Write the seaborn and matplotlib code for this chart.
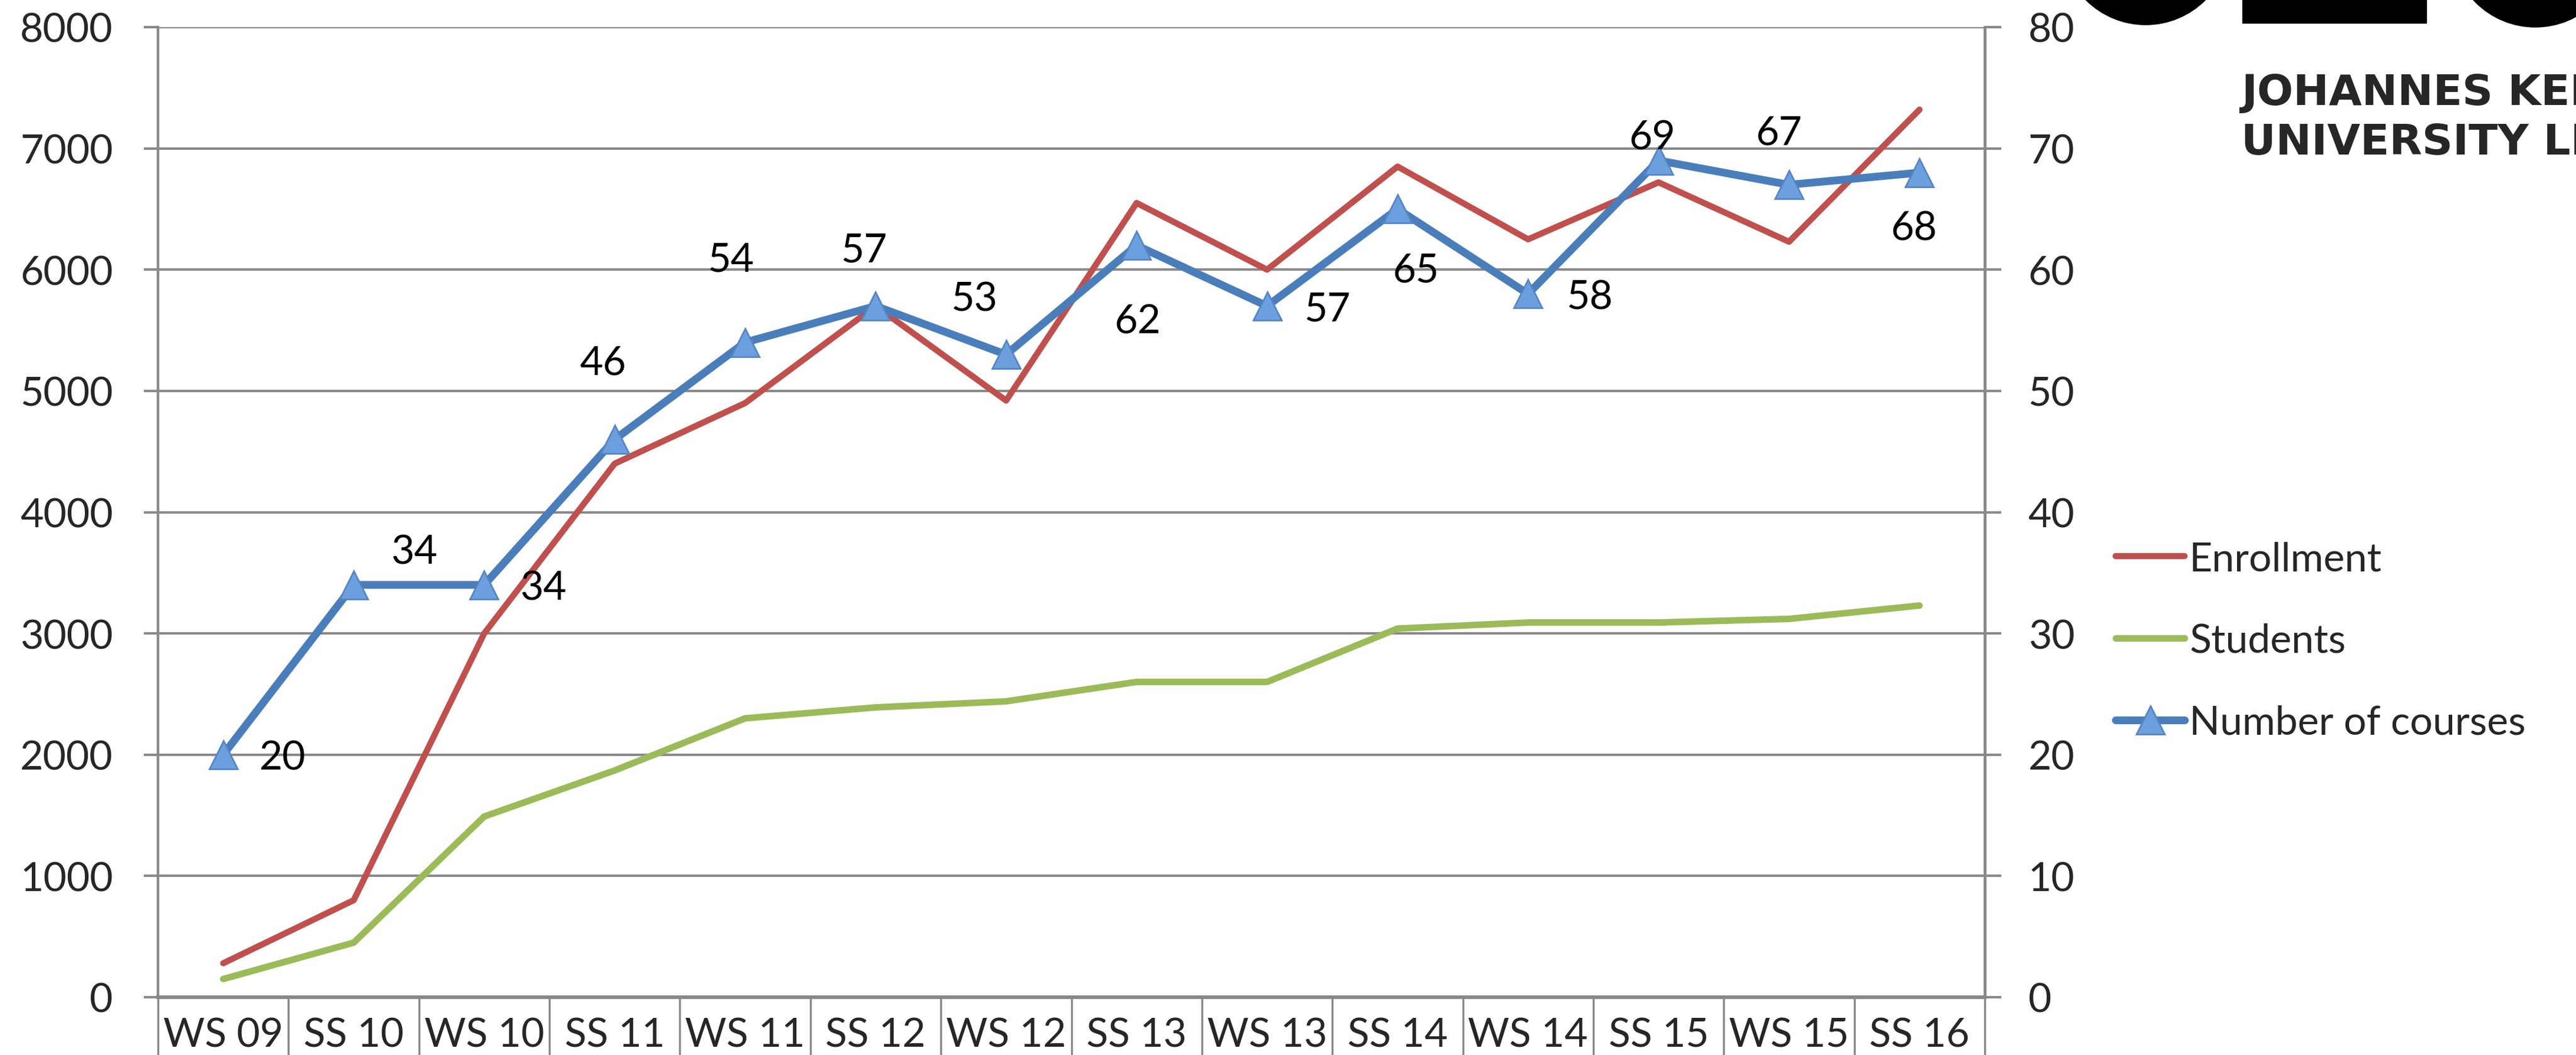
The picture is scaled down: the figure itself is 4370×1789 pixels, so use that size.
import numpy as np
import pandas as pd
import matplotlib
matplotlib.use('Agg')
import matplotlib.pyplot as plt
import seaborn as sns
from matplotlib.patches import Ellipse, Rectangle

# semesters and series
terms = ['WS 09', 'SS 10', 'WS 10', 'SS 11', 'WS 11', 'SS 12', 'WS 12',
         'SS 13', 'WS 13', 'SS 14', 'WS 14', 'SS 15', 'WS 15', 'SS 16']
enrollment = [280, 800, 3000, 4400, 4900, 5700, 4920,
              6550, 6000, 6850, 6250, 6720, 6230, 7320]
students = [150, 450, 1490, 1870, 2300, 2390, 2440,
            2600, 2600, 3040, 3090, 3090, 3120, 3230]
courses = [20, 34, 34, 46, 54, 57, 53, 62, 57, 65, 58, 69, 67, 68]

# where each course label sits relative to its marker (pixels, x right / y up)
label_offsets = [(101, 0), (102, 61), (100, 0), (-20, 136), (-24, 146),
                 (-20, 100), (-54, 100), (2, -123), (102, 0), (31, -98),
                 (104, 0), (-11, 45), (-17, 94), (-10, -89)]

RED = '#C0504D'
GREEN = '#9BBB59'
BLUE = '#4A7EBB'
GRID = '#898989'
FS = 49

df = pd.DataFrame({'Term': terms, 'Enrollment': enrollment,
                   'Students': students, 'Courses': courses})

sns.set_style('white')
plt.rcParams['font.family'] = ['Lato', 'DejaVu Sans']

W, H = 4370, 1790
fig = plt.figure(figsize=(W / 100, H / 100), dpi=100)
ax = fig.add_axes([268 / W, 1 - 1692 / H, (3367 - 268) / W, (1692 - 47) / H])
ax2 = ax.twinx()

sns.lineplot(data=df, x='Term', y='Enrollment', ax=ax, color=RED, lw=7.5,
             sort=False, errorbar=None, label='Enrollment', solid_capstyle='round')
sns.lineplot(data=df, x='Term', y='Students', ax=ax, color=GREEN, lw=8,
             sort=False, errorbar=None, label='Students', solid_capstyle='round')
sns.lineplot(data=df, x='Term', y='Courses', ax=ax2, color=BLUE, lw=9.5,
             sort=False, errorbar=None, label='Number of courses',
             marker='^', ms=34, mfc='#6C9FDD', mec='#5585C4', mew=2,
             solid_capstyle='round')

for a in (ax, ax2):
    if a.get_legend() is not None:
        a.get_legend().remove()
    a.set_xlabel('')
    a.set_ylabel('')

# axes ranges and ticks
ax.set_xlim(-0.5, len(terms) - 0.5)
ax.set_ylim(0, 8000)
ax.set_yticks(range(0, 8001, 1000))
ax2.set_ylim(0, 80)
ax2.set_yticks(range(0, 81, 10))
ax.set_xticks(np.arange(-0.5, len(terms), 1), minor=True)

ax.yaxis.grid(True, color=GRID, lw=3)
ax.xaxis.grid(False)
ax.set_axisbelow(True)

ax.tick_params(axis='y', which='major', left=True, right=False, length=17,
               width=3, color=GRID, pad=38, labelsize=FS)
ax.tick_params(axis='x', which='major', bottom=True, length=0, pad=24, labelsize=FS)
ax.tick_params(axis='x', which='minor', bottom=True, length=72, width=2.5, color=GRID)
ax2.tick_params(axis='y', right=True, left=False, length=20, width=3,
                color=GRID, pad=33, labelsize=FS)

ax.spines['top'].set_visible(False)
ax.spines['right'].set_visible(False)
ax.spines['left'].set_color(GRID)
ax.spines['left'].set_linewidth(3.2)
ax.spines['bottom'].set_color(GRID)
ax.spines['bottom'].set_linewidth(4.5)
for s in ('top', 'left', 'bottom'):
    ax2.spines[s].set_visible(False)
ax2.spines['right'].set_color(GRID)
ax2.spines['right'].set_linewidth(3.5)

# data labels for number of courses
for i, v in enumerate(courses):
    dx, dy = label_offsets[i]
    ax2.annotate(str(v), (i, v), xytext=(dx, dy - 25), textcoords='offset pixels',
                 ha='center', va='baseline', fontsize=FS, color='black')

# legend
h1, l1 = ax.get_legend_handles_labels()
h2, l2 = ax2.get_legend_handles_labels()
fig.legend(h1 + h2, l1 + l2, loc='center left',
           bbox_to_anchor=(3589 / W, 1 - 1088 / H), frameon=False,
           fontsize=FS, handlelength=1.72, handletextpad=0.12,
           labelspacing=1.13, borderpad=0, borderaxespad=0)

# university logo fragment in the top right corner (cut off by the edge, as in the original)
fig.add_artist(Ellipse((3640 / W, 1890 / H), 2 * 143 / W, 2 * 143 / H,
                       transform=fig.transFigure, color='black'))
fig.add_artist(Rectangle((3804 / W, 1 - 40 / H), (4116 - 3804) / W, 40 / H,
                         transform=fig.transFigure, color='black'))
fig.add_artist(Ellipse((4301 / W, 1886 / H), 2 * 143 / W, 2 * 143 / H,
                       transform=fig.transFigure, color='black'))
fig.text(3802 / W, 1 - 178 / H, 'JOHANNES KEPLER', fontsize=52, fontweight='bold',
         family='DejaVu Sans', va='baseline', ha='left')
fig.text(3802 / W, 1 - 262 / H, 'UNIVERSITY LINZ', fontsize=52, fontweight='bold',
         family='DejaVu Sans', va='baseline', ha='left')

fig.savefig('out.png', dpi=100)
